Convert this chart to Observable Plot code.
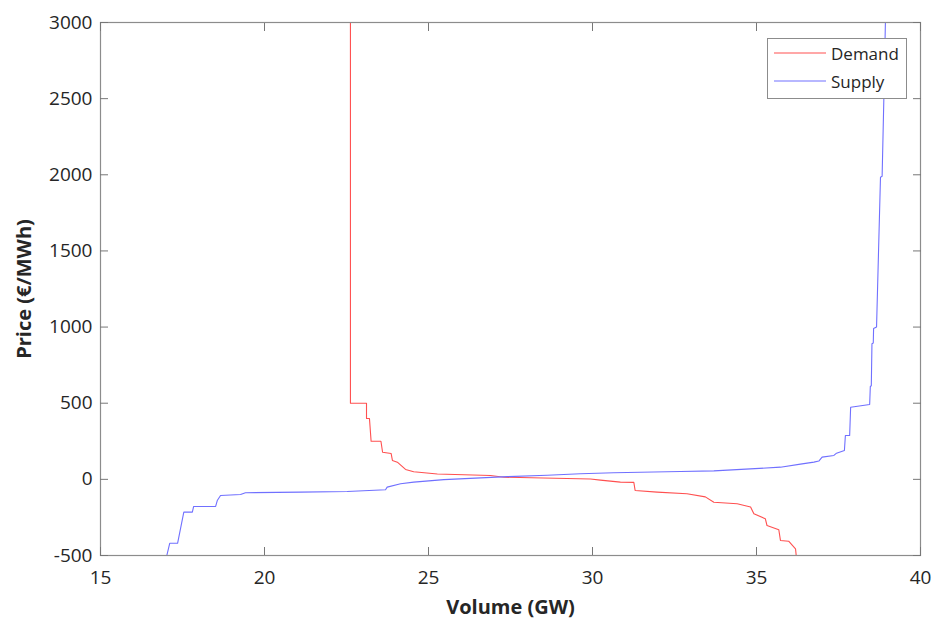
<!DOCTYPE html>
<html>
<head>
<meta charset="utf-8">
<script src="https://cdn.jsdelivr.net/npm/d3@7"></script>
<script src="https://cdn.jsdelivr.net/npm/@observablehq/plot@0.6"></script>
<style>
  html, body { margin: 0; padding: 0; background: #fff; }
  #wrap { position: relative; width: 932px; height: 619px; }
  g[aria-label="x-axis label"] text, g[aria-label="y-axis label"] text { font-weight: bold; font-size: 20px; fill: #262626; }
  #legend { position: absolute; left: 767px; top: 38px; width: 140px; height: 61px; border: 1px solid #8c8c8c; background: #fff; font-family: "Open Sans", sans-serif; font-size: 17px; color: #262626; box-sizing: border-box; }
  .row { position: absolute; left: 0; height: 24px; display: flex; align-items: center; }
  .sw { display: block; margin-left: 6px; margin-right: 5px; }
</style>
</head>
<body>
<div id="wrap"></div>
<script>
const xTicks = [15, 20, 25, 30, 35, 40];
const yTicks = [-500, 0, 500, 1000, 1500, 2000, 2500, 3000];
const seriesNames = ["Demand", "Supply"];
const seriesColors = ["#ff5050", "#7070ff"];

const demandVolume = [22.62, 22.62, 23.11, 23.11, 23.2, 23.25, 23.55, 23.6, 23.86, 23.9, 24.05, 24.3, 24.55, 25.27, 26.89, 27.3, 29.94, 30.24, 30.85, 31.26, 31.3, 31.97, 32.88, 33.44, 33.7, 34.41, 34.82, 34.92, 35.27, 35.32, 35.68, 35.73, 35.98, 36.19, 36.22];
const demandPrice  = [3000, 500, 500, 400, 400, 250, 250, 178, 170, 124, 113, 65, 50, 35, 25, 14, 2, -5, -18, -20, -73, -84, -95, -115, -150, -160, -182, -226, -259, -303, -331, -401, -406, -456, -520];

const supplyVolume = [17.0, 17.11, 17.35, 17.54, 17.8, 17.84, 18.51, 18.56, 18.66, 19.27, 19.42, 21.1, 22.52, 23.69, 23.74, 24.15, 24.55, 25.47, 26.59, 27.4, 28.62, 29.63, 30.65, 32.68, 33.7, 35.73, 36.34, 36.75, 36.9, 37.0, 37.36, 37.44, 37.68, 37.71, 37.84, 37.87, 38.45, 38.47, 38.5, 38.52, 38.56, 38.57, 38.66, 38.78, 38.83, 38.88, 38.93, 38.95];
const supplyPrice  = [-520, -420, -420, -215, -215, -178, -178, -139, -106, -99, -88, -84, -80, -68, -51, -29, -18, -2, 10, 18, 27, 37, 43, 52, 56, 80, 100, 113, 120, 146, 157, 172, 190, 288, 288, 474, 492, 610, 615, 890, 895, 990, 1000, 1984, 1990, 2477, 3000, 3100];

const demand = demandVolume.map((v, i) => ({v, p: demandPrice[i]}));
const supply = supplyVolume.map((v, i) => ({v, p: supplyPrice[i]}));

const chart = Plot.plot({
  width: 932,
  height: 619,
  marginLeft: 100,
  marginRight: 12,
  marginTop: 22,
  marginBottom: 64,
  style: {fontFamily: "'Open Sans', sans-serif", fontSize: "19px", color: "#262626", background: "#fff"},
  x: {domain: [15, 40]},
  y: {domain: [-500, 3000]},
  marks: [
    Plot.line(demand, {x: "v", y: "p", stroke: seriesColors[0], strokeWidth: 1.1, clip: true}),
    Plot.line(supply, {x: "v", y: "p", stroke: seriesColors[1], strokeWidth: 1.1, clip: true}),
    Plot.frame({stroke: "#8c8c8c", strokeWidth: 1.2}),
    Plot.axisX({ticks: xTicks, tickSize: -8, tickPadding: 23, stroke: "#777", label: "Volume (GW)", labelAnchor: "center", labelArrow: "none", labelOffset: 58}),
    Plot.axisX({anchor: "top", ticks: xTicks, tickSize: -8, stroke: "#777", tickFormat: () => "", label: null}),
    Plot.axisY({ticks: yTicks, tickSize: -8, tickPadding: 16, stroke: "#777", tickFormat: d => String(d), label: "Price (€/MWh)", labelAnchor: "center", labelArrow: "none", labelOffset: 84}),
    Plot.axisY({anchor: "right", ticks: yTicks, tickSize: -8, stroke: "#777", tickFormat: () => "", label: null})
  ]
});
document.getElementById("wrap").appendChild(chart);

const svgNS = "http://www.w3.org/2000/svg";
const legend = document.createElement("div");
legend.id = "legend";
seriesNames.forEach((name, i) => {
  const row = document.createElement("div");
  row.className = "row";
  row.style.top = (2 + i * 28) + "px";
  const sw = document.createElementNS(svgNS, "svg");
  sw.setAttribute("class", "sw");
  sw.setAttribute("width", "52");
  sw.setAttribute("height", "4");
  const ln = document.createElementNS(svgNS, "line");
  ln.setAttribute("x1", "0");
  ln.setAttribute("x2", "52");
  ln.setAttribute("y1", "2");
  ln.setAttribute("y2", "2");
  ln.setAttribute("stroke", seriesColors[i]);
  ln.setAttribute("stroke-width", "1.1");
  sw.appendChild(ln);
  const t = document.createElement("span");
  t.textContent = name;
  row.appendChild(sw);
  row.appendChild(t);
  legend.appendChild(row);
});
document.getElementById("wrap").appendChild(legend);
</script>
</body>
</html>
